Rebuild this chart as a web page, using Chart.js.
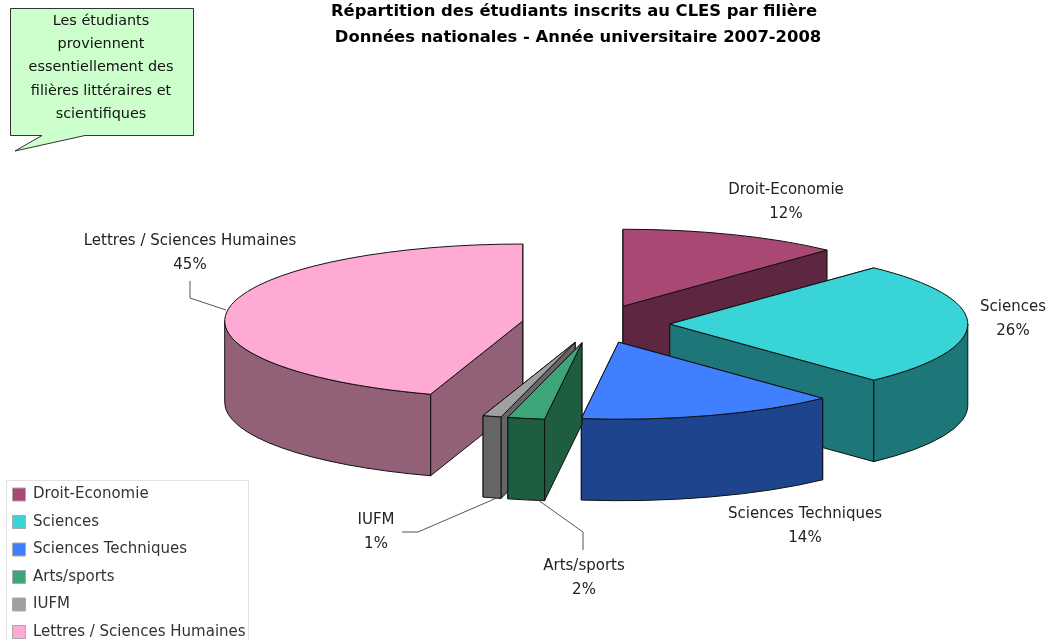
<!DOCTYPE html>
<html lang="fr">
<head>
<meta charset="utf-8">
<title>Répartition des étudiants inscrits au CLES par filière</title>
<script src="https://cdn.jsdelivr.net/npm/chart.js@4"></script>
<style>
  html, body { margin: 0; padding: 0; background: #fff; overflow: hidden; }
</style>
</head>
<body>
<canvas id="canvas" width="1050" height="640"></canvas>
<script>
// values
const filieres = ['Droit-Economie', 'Sciences', 'Sciences Techniques', 'Arts/sports', 'IUFM', 'Lettres / Sciences Humaines'];
const pourcentages = [12, 26, 14, 2, 1, 45];
const couleurs = ['#A94775', '#38D4D8', '#4080FF', '#3CA678', '#A0A0A0', '#FFAAD4'];
const couleursCotes = ['#5E2640', '#1D7677', '#1F448E', '#1E5D40', '#666666', '#936177'];
const titre = ['Répartition des étudiants inscrits au CLES par filière', 'Données nationales - Année universitaire 2007-2008'];
const bulle = ['Les étudiants', 'proviennent', 'essentiellement des', 'filières littéraires et', 'scientifiques'];

const TEXTE = '"DejaVu Sans"';
const TILT = 77 / 298;
const DEPTH = 81.5;

// label centre and leader line, same order as filieres
const etiquettes = [
  { x: 786, y: 190 },
  { x: 1013, y: 307 },
  { x: 805, y: 514 },
  { x: 584, y: 566, trait: [[538, 500], [583, 532], [583, 550]] },
  { x: 376, y: 520, trait: [[499, 497], [418, 532], [402, 532]] },
  { x: 190, y: 241, trait: [[190, 281], [190, 298], [226, 310]] }
];

const pie3d = {
  id: 'pie3d',
  // the arcs come from the pie controller, only the tilt and the sides are added here
  beforeDatasetDraw(chart, args) {
    const ctx = chart.ctx;
    const parts = args.meta.data.map((el, i) => {
      const p = el.getProps(['x', 'y', 'startAngle', 'endAngle', 'outerRadius'], true);
      const mid = (p.startAngle + p.endAngle) / 2;
      const offset = el.options.offset;
      return {
        i: i,
        s: p.startAngle,
        e: p.endAngle,
        mid: mid,
        ox: p.x + Math.cos(mid) * offset,
        oy: p.y + Math.sin(mid) * offset * TILT,
        rx: p.outerRadius,
        ry: p.outerRadius * TILT
      };
    });
    parts.sort((a, b) => Math.sin(a.mid) - Math.sin(b.mid));

    ctx.save();
    ctx.lineWidth = 1;
    ctx.strokeStyle = '#111';
    ctx.lineJoin = 'round';
    for (const p of parts) {
      ctx.fillStyle = couleursCotes[p.i];
      // flat sides, the one further back first
      const ends = [p.s, p.e].sort((a, b) => Math.sin(a) - Math.sin(b));
      for (const a of ends) {
        const ex = p.ox + p.rx * Math.cos(a);
        const ey = p.oy + p.ry * Math.sin(a);
        ctx.beginPath();
        ctx.moveTo(p.ox, p.oy);
        ctx.lineTo(ex, ey);
        ctx.lineTo(ex, ey + DEPTH);
        ctx.lineTo(p.ox, p.oy + DEPTH);
        ctx.closePath();
        ctx.fill();
        ctx.stroke();
      }
      // curved side, only the front half shows
      const lo = Math.max(p.s, 0);
      const hi = Math.min(p.e, Math.PI);
      if (hi > lo) {
        ctx.beginPath();
        ctx.ellipse(p.ox, p.oy, p.rx, p.ry, 0, lo, hi);
        ctx.ellipse(p.ox, p.oy + DEPTH, p.rx, p.ry, 0, hi, lo, true);
        ctx.closePath();
        ctx.fill();
        ctx.stroke();
      }
      // top
      ctx.fillStyle = couleurs[p.i];
      ctx.beginPath();
      ctx.moveTo(p.ox, p.oy);
      ctx.ellipse(p.ox, p.oy, p.rx, p.ry, 0, p.s, p.e);
      ctx.closePath();
      ctx.fill();
      ctx.stroke();
    }
    ctx.restore();
    return false;
  },
  afterDraw(chart) {
    const ctx = chart.ctx;
    ctx.save();

    // title
    ctx.fillStyle = '#000';
    ctx.textAlign = 'center';
    ctx.textBaseline = 'middle';
    ctx.font = 'bold 16.4px ' + TEXTE;
    ctx.fillText(titre[0], 574, 12);
    ctx.fillText(titre[1], 578, 38);

    // speech bubble
    ctx.fillStyle = '#CCFFCC';
    ctx.strokeStyle = '#333';
    ctx.lineWidth = 1;
    ctx.beginPath();
    ctx.moveTo(10.5, 8.5);
    ctx.lineTo(193.5, 8.5);
    ctx.lineTo(193.5, 135.5);
    ctx.lineTo(85, 135.5);
    ctx.lineTo(15, 151);
    ctx.lineTo(42, 135.5);
    ctx.lineTo(10.5, 135.5);
    ctx.closePath();
    ctx.fill();
    ctx.stroke();
    ctx.fillStyle = '#111';
    ctx.font = '14.4px ' + TEXTE;
    bulle.forEach((ligne, i) => ctx.fillText(ligne, 101, 21 + i * 23.3));

    // labels and leader lines
    ctx.font = '15px ' + TEXTE;
    ctx.strokeStyle = '#555';
    etiquettes.forEach((e, i) => {
      ctx.fillStyle = '#222';
      ctx.fillText(filieres[i], e.x, e.y);
      ctx.fillText(pourcentages[i] + '%', e.x, e.y + 24);
      if (e.trait) {
        ctx.beginPath();
        e.trait.forEach((pt, k) => k ? ctx.lineTo(pt[0], pt[1]) : ctx.moveTo(pt[0], pt[1]));
        ctx.stroke();
      }
    });

    // legend frame
    ctx.strokeStyle = '#E2E2E2';
    ctx.strokeRect(6.5, 480.5, 242, 165);
    ctx.restore();
  }
};

new Chart(document.getElementById('canvas'), {
  type: 'pie',
  data: {
    labels: filieres,
    datasets: [{
      data: pourcentages,
      backgroundColor: couleurs,
      borderColor: '#AAAAAA',
      borderWidth: 1,
      offset: 74,
      radius: 298
    }]
  },
  options: {
    responsive: false,
    animation: false,
    layout: { padding: { top: 8, right: 114, left: 0, bottom: -12 } },
    plugins: {
      title: { display: false },
      tooltip: { enabled: false },
      legend: {
        display: true,
        position: 'left',
        align: 'end',
        labels: {
          boxWidth: 13,
          boxHeight: 13,
          padding: 12.5,
          color: '#333',
          font: { family: TEXTE, size: 15 }
        }
      }
    }
  },
  plugins: [pie3d]
});
</script>
</body>
</html>
